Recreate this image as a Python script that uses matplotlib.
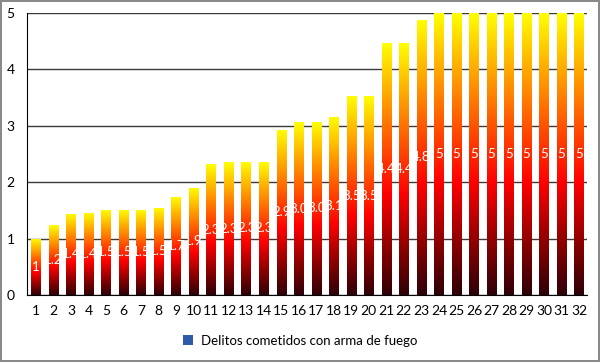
import matplotlib
matplotlib.use("Agg")
import matplotlib.pyplot as plt
import numpy as np
from matplotlib.colors import LinearSegmentedColormap
from matplotlib.patches import Rectangle

categories = [str(i) for i in range(1, 33)]
values = [1.0, 1.24, 1.44, 1.46, 1.51, 1.51, 1.51, 1.55, 1.74, 1.90,
          2.32, 2.35, 2.36, 2.36, 2.93, 3.06, 3.07, 3.16, 3.52, 3.52,
          4.46, 4.46, 4.88, 5.0, 5.0, 5.0, 5.0, 5.0, 5.0, 5.0, 5.0, 5.0]
value_labels = ["1", "1.2", "1.4", "1.4", "1.5", "1.5", "1.5", "1.5", "1.7", "1.9",
                "2.3", "2.3", "2.3", "2.3", "2.9", "3.0", "3.0", "3.1", "3.5", "3.5",
                "4.4", "4.4", "4.8", "5", "5", "5", "5", "5", "5", "5", "5", "5"]
series_name = "Delitos cometidos con arma de fuego"
yticks = [0, 1, 2, 3, 4, 5]

plt.rcParams['font.family'] = ['Lato', 'DejaVu Sans']

fig = plt.figure(figsize=(6.0, 3.62), dpi=100)
fig.patch.set_facecolor('white')
fig.patch.set_edgecolor('#8a8a8a')
fig.patch.set_linewidth(1.5)

ax = fig.add_axes([27/600, 1 - 295/362, 560/600, (295 - 13)/362])
ax.set_facecolor('white')

cmap = LinearSegmentedColormap.from_list('fire', [
    (0.0, '#2e0008'),
    (0.18, '#8a0000'),
    (0.40, '#ff0000'),
    (0.58, '#ff4a00'),
    (0.78, '#ffa000'),
    (1.0, '#ffff00'),
])
grad = np.linspace(0, 1, 256).reshape(-1, 1)

x = np.arange(1, len(values) + 1)
width = 0.54
bars = ax.bar(x, values, width=width, color='none', edgecolor='none', zorder=2)
for rect, lab in zip(bars, value_labels):
    x0 = rect.get_x()
    h = rect.get_height()
    im = ax.imshow(grad, cmap=cmap, origin='lower', aspect='auto',
                   extent=(x0, x0 + rect.get_width(), 0, h), zorder=2,
                   interpolation='bilinear')
    im.set_clip_path(rect)
    t = ax.text(x0 + rect.get_width() / 2, h / 2, lab, color='white',
                ha='center', va='center', fontsize=9.5, zorder=3)
    t.set_clip_path(rect)

ax.set_xlim(0.49, 32.45)
ax.set_ylim(0, 5)
ax.set_yticks(yticks)
ax.set_xticks(x)
ax.set_xticklabels(categories)
ax.yaxis.grid(True, color='#3a3a3a', linewidth=1.0, zorder=0)
ax.set_axisbelow(True)
for s in ['top', 'right']:
    ax.spines[s].set_visible(False)
ax.spines['left'].set_color('black')
ax.spines['bottom'].set_color('black')
ax.tick_params(axis='both', length=0, labelsize=10, colors='black')
ax.tick_params(axis='x', pad=7)
ax.tick_params(axis='y', pad=9)

handle = Rectangle((0, 0), 1, 1, facecolor='#2e5aa8', edgecolor='none')
fig.legend([handle], [series_name], loc='center', bbox_to_anchor=(0.5, 1 - 341/362),
           frameon=False, fontsize=9.5, handlelength=0.8, handleheight=0.8,
           handletextpad=0.6)

fig.savefig('out.png', dpi=100, facecolor='white', edgecolor='#8a8a8a')
